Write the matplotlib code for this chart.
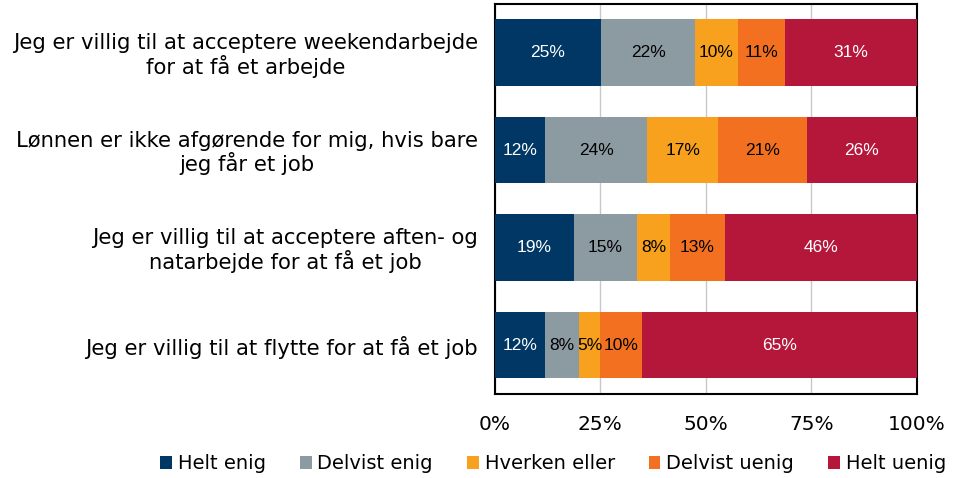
import matplotlib.pyplot as plt
import numpy as np

questions = [
    "Jeg er villig til at acceptere weekendarbejde\nfor at få et arbejde",
    "Lønnen er ikke afgørende for mig, hvis bare\njeg får et job",
    "Jeg er villig til at acceptere aften- og\nnatarbejde for at få et job",
    "Jeg er villig til at flytte for at få et job",
]
categories = ["Helt enig", "Delvist enig", "Hverken eller", "Delvist uenig", "Helt uenig"]
helt_enig = [25, 12, 19, 12]
delvist_enig = [22, 24, 15, 8]
hverken = [10, 17, 8, 5]
delvist_uenig = [11, 21, 13, 10]
helt_uenig = [31, 26, 46, 65]

colors = ["#003764", "#8C9AA2", "#F7A11E", "#F37021", "#B5173A"]
text_colors = ["white", "black", "black", "black", "white"]

vals = np.array([helt_enig, delvist_enig, hverken, delvist_uenig, helt_uenig], dtype=float)
shares = vals / vals.sum(axis=0) * 100

fig = plt.figure(figsize=(9.57, 4.78), dpi=100)
ax = fig.add_axes([0.517, 0.176, 0.441, 0.816])

y = np.arange(len(questions))
left = np.zeros(len(questions))
for i, cat in enumerate(categories):
    bars = ax.barh(y, shares[i], left=left, height=0.68, color=colors[i],
                   label=cat, zorder=3)
    for j, b in enumerate(bars):
        ax.text(left[j] + shares[i][j] / 2, y[j], f"{int(vals[i][j])}%",
                ha="center", va="center", color=text_colors[i],
                fontsize=12.5, family="Liberation Sans", zorder=4)
    left += shares[i]

ax.set_xlim(0, 100)
ax.set_ylim(len(questions) - 0.5, -0.5)
ax.set_yticks(y)
ax.set_yticklabels(questions, fontsize=15.2, family="DejaVu Sans",
                   multialignment="center", linespacing=1.08)
ax.set_xticks([0, 25, 50, 75, 100])
ax.set_xticklabels(["0%", "25%", "50%", "75%", "100%"], fontsize=14.5)
ax.tick_params(axis="both", length=0)
ax.tick_params(axis="x", pad=15)
ax.tick_params(axis="y", pad=12)
ax.grid(axis="x", color="#C8C8C8", linewidth=1, zorder=0)
for s in ax.spines.values():
    s.set_color("black")
    s.set_linewidth(1.5)

fig.legend(loc="center", bbox_to_anchor=(0.578, 0.03), ncol=5, frameon=False,
           fontsize=14, handlelength=0.6, handleheight=0.7,
           handletextpad=0.3, columnspacing=1.75)

fig.savefig("out.png", dpi=100)
